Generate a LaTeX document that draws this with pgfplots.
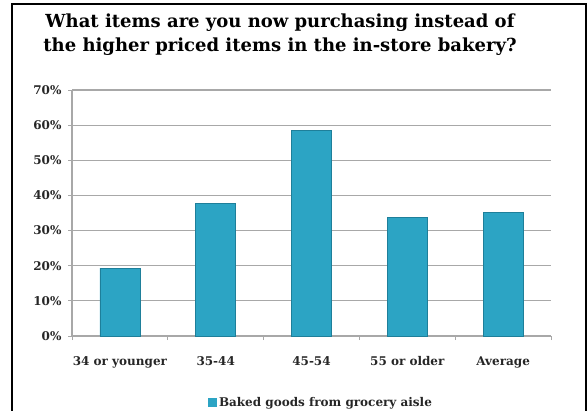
\documentclass[border=0pt]{standalone}
\usepackage{pgfplots}
\pgfplotsset{compat=1.18}
\usetikzlibrary{calc}
\usepackage{fontspec}
\setmainfont{DejaVu Serif}
\definecolor{barmid}{HTML}{2CA4C4}
\definecolor{baredge}{HTML}{1E7F9A}
\definecolor{gridc}{HTML}{A8A8A8}
\begin{document}
\begin{tikzpicture}
\begin{axis}[
  name=ax,
  scale only axis, width=479pt, height=246pt,
  xmin=-0.5, xmax=4.5, ymin=0, ymax=70,
  ytick={0,10,...,70},
  yticklabel={\pgfmathprintnumber{\tick}\%},
  /pgf/number format/assume math mode=true,
  xtick={0,1,2,3,4},
  xticklabels={34 or younger,35-44,45-54,55 or older,Average},
  minor xtick={-0.5,0.5,1.5,2.5,3.5,4.5},
  major x tick style={draw=none},
  minor tick length=4pt, major tick length=4pt,
  tick align=outside,
  tick style={gridc, line width=1pt},
  axis x line*=bottom, axis y line*=left,
  axis line style={gridc, line width=1.2pt, -},
  ymajorgrids, grid style={gridc, line width=1.2pt},
  ticklabel style={font=\bfseries\fontsize{12}{14}\selectfont, text=black!85},
  xticklabel style={yshift=-13pt},
  yticklabel style={xshift=-3pt},
  legend style={at={(0.52,-0.27)}, anchor=center, draw=none, fill=none,
    font=\bfseries\fontsize{12}{14}\selectfont, legend columns=1,
    text=black!85},
  legend image code/.code={\fill[barmid] (0pt,-4pt) rectangle (8pt,4pt);},
  clip=false,
]
\addplot[ybar, bar width=40pt, fill=barmid, draw=baredge, line width=0.8pt]
  coordinates {(0,19.3) (1,37.8) (2,58.6) (3,33.7) (4,35.2)};
\addlegendentry{Baked goods from grocery aisle}
\end{axis}
\coordinate (O) at ($(ax.south west)+(-72pt,-74pt)$);
\pgfresetboundingbox
\path[use as bounding box] (O) rectangle ($(O)+(588pt,410pt)$);
\draw[line width=1.6pt] ($(O)+(12pt,-5pt)$) rectangle ($(O)+(586pt,406pt)$);
\node[font=\bfseries\fontsize{18}{24}\selectfont, align=center, anchor=base] at ($(O)+(280pt,358pt)$)
  {What items are you now purchasing instead of\\the higher priced items in the in-store bakery?};
\end{tikzpicture}
\end{document}
